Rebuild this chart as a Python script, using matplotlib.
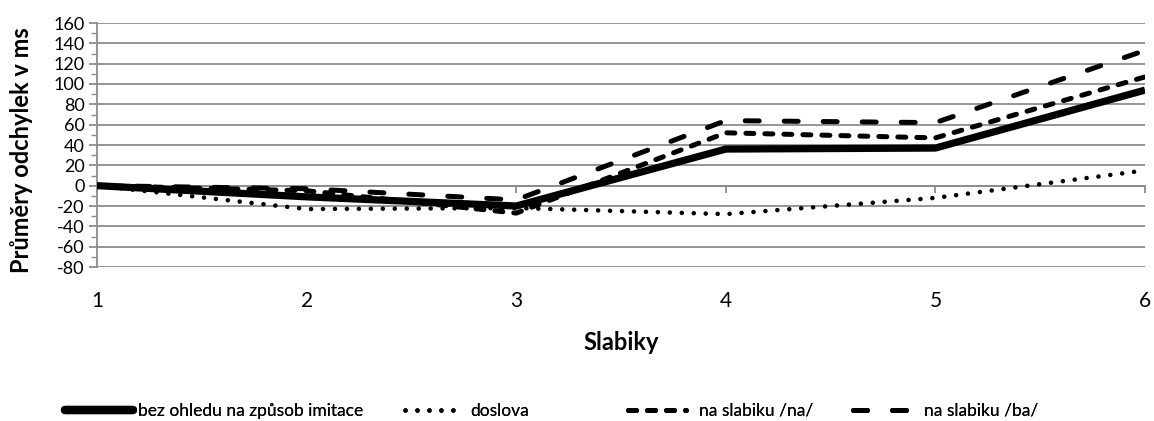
import numpy as np
import matplotlib
matplotlib.use('Agg')
import matplotlib.pyplot as plt
from matplotlib.ticker import MultipleLocator
from matplotlib.lines import Line2D

plt.rcParams['font.family'] = ['Lato', 'DejaVu Sans']
plt.rcParams['axes.unicode_minus'] = False

# data
slabiky = [1, 2, 3, 4, 5, 6]
bez_ohledu = [0, -11, -20, 36, 37, 94]
doslova = [0, -23, -22, -28, -12, 15]
slabika_na = [0, -5, -27, 52, 47, 107]
slabika_ba = [0, -3, -14, 64, 62, 133]
nazvy = ['bez ohledu na způsob imitace', 'doslova', 'na slabiku /na/', 'na slabiku /ba/']

W, H = 1154, 421
fig = plt.figure(figsize=(W/100, H/100), dpi=100)
ax = fig.add_axes([97/W, 1-267/H, (1145-97)/W, (267-23)/H])

grid_c = '#8c8c8c'

styles = [
    dict(lw=5.2, linestyle='-', solid_capstyle='butt'),
    dict(lw=3.3, linestyle=(0, (0.01, 2.6)), dash_capstyle='round'),
    dict(lw=3.6, linestyle=(0, (1.6, 2.2)), dash_capstyle='round'),
    dict(lw=3.6, linestyle=(0, (2.8, 5.0)), dash_capstyle='round'),
]
serie = [bez_ohledu, doslova, slabika_na, slabika_ba]
zorders = [5, 4, 3, 3]
for vals, st, z, nm in zip(serie, styles, zorders, nazvy):
    ax.plot(slabiky, vals, color='black', label=nm, zorder=z, **st)

ax.set_xlim(1, 6)
ax.set_ylim(-80, 160)
ax.yaxis.set_major_locator(MultipleLocator(20))
ax.yaxis.set_minor_locator(MultipleLocator(10))
ax.grid(axis='y', which='major', color=grid_c, lw=1.3, zorder=0)
ax.set_axisbelow(True)

for s in ['top', 'right']:
    ax.spines[s].set_visible(False)
ax.spines['left'].set_color(grid_c)
ax.spines['left'].set_linewidth(1.3)
ax.spines['bottom'].set_position(('data', 0))
ax.spines['bottom'].set_color(grid_c)
ax.spines['bottom'].set_linewidth(1.3)

ax.set_xticks(slabiky)
ax.set_xticklabels([str(s) for s in slabiky])
ax.tick_params(axis='x', direction='out', length=5, width=1.3, color=grid_c,
               pad=71, labelsize=15)
ax.tick_params(axis='y', which='major', direction='out', length=6, width=1.3,
               color=grid_c, labelsize=13, pad=3)
ax.tick_params(axis='y', which='minor', direction='out', length=4, width=1.0, color=grid_c)

fig.text(22/W, 1-150/H, 'Průměry odchylek v ms', rotation=90, ha='center', va='center',
         fontsize=17, fontweight='bold')
fig.text(621/W, 1-342/H, 'Slabiky', ha='center', va='center',
         fontsize=17, fontweight='bold')

# legend: one entry per box, placed like the original
leg_x = [65, 405, 628, 853]
leg_len = [3.9, 3.35, 3.35, 3.35]
leg_pad = [0.3, 0.4, 0.75, 0.75]
leg_y = 1 - 411/H
for x0, hl, tp, st, nm in zip(leg_x, leg_len, leg_pad, styles, nazvy):
    st2 = dict(st)
    if st2['linestyle'] == '-':
        st2['solid_capstyle'] = 'round'
        st2['lw'] = 6.0
    h = Line2D([], [], color='black', **st2)
    lg = fig.legend([h], [nm], loc='center left', bbox_to_anchor=(x0/W, leg_y),
                    frameon=False, fontsize=12.5, handlelength=hl,
                    handletextpad=tp, borderpad=0, borderaxespad=0)
    fig.add_artist(lg)

fig.savefig('out.png', dpi=100)
